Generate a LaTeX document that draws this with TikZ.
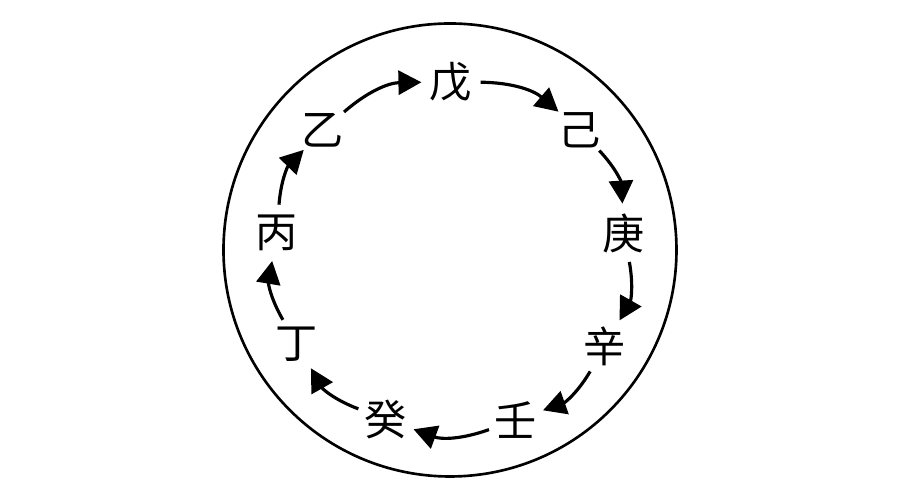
\documentclass[tikz,border=0pt]{standalone}
\usepackage{fontspec}
\newfontfamily\cjk{Noto Sans CJK SC}
\usetikzlibrary{arrows.meta}

\begin{document}
\begin{tikzpicture}[
	gan/.style={circle, inner sep=0pt, minimum size=0.5cm, font=\cjk\fontsize{12}{14}\selectfont},
	arr/.style={line width=0.9pt, -{Triangle[length=2.3mm,width=2.4mm]}}
	]
	\useasboundingbox (-4.5,-2.5) rectangle (4.5,2.5);
	%Draw outer circle
	\draw[line width=0.75pt] (0,0) circle (2.265);

	%Draw stems
	\node[gan] (wu)   at (0.01,1.68)   {戊};
	\node[gan] (ji)   at (1.30,1.20)   {己};
	\node[gan] (geng) at (1.74,0.17)   {庚};
	\node[gan] (xin)  at (1.55,-0.96)  {辛};
	\node[gan] (ren)  at (0.66,-1.70)  {壬};
	\node[gan] (gui)  at (-0.64,-1.69) {癸};
	\node[gan] (ding) at (-1.53,-0.94) {丁};
	\node[gan] (bing) at (-1.73,0.17)  {丙};
	\node[gan] (yi)   at (-1.27,1.20)  {乙};

	%Draw cycle
	\draw[arr] (wu)   to[bend left=20] (ji);
	\draw[arr] (ji)   to[bend left=20] (geng);
	\draw[arr] (geng) to[bend left=20] (xin);
	\draw[arr] (xin)  to[bend left=20] (ren);
	\draw[arr] (ren)  to[bend left=20] (gui);
	\draw[arr] (gui)  to[bend left=20] (ding);
	\draw[arr] (ding) to[bend left=20] (bing);
	\draw[arr] (bing) to[bend left=20] (yi);
	\draw[arr] (yi)   to[bend left=20] (wu);
\end{tikzpicture}
\end{document}
